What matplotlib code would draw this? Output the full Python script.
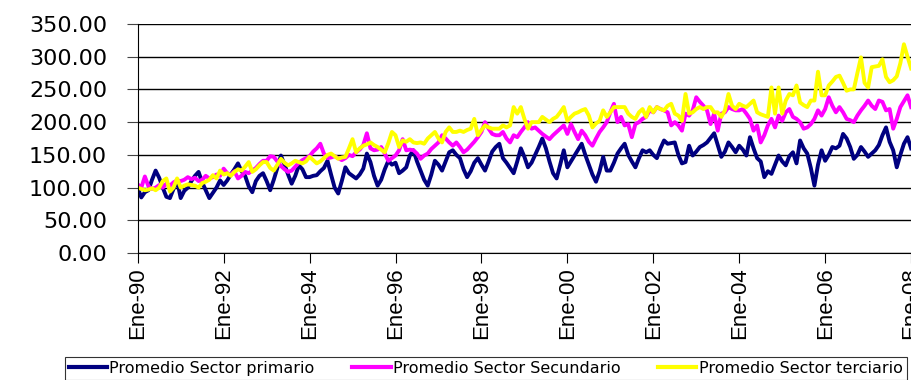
import matplotlib
matplotlib.use("Agg")
import matplotlib.pyplot as plt

plt.rcParams['font.family'] = ['Liberation Sans', 'DejaVu Sans']

# monthly averages, Ene-1990 .. Ene-2008
primario = [
    100, 85, 93, 96, 112, 126, 115, 100, 86, 84, 98, 111,
    84, 95, 100, 110, 118, 124, 108, 96, 84, 92, 100, 111,
    104, 111, 120, 128, 137, 125, 118, 102, 93, 110, 118, 122,
    110, 96, 112, 130, 149, 135, 120, 106, 118, 134, 128, 116,
    116, 118, 119, 125, 130, 141, 120, 100, 91, 110, 131, 122,
    118, 114, 120, 129, 152, 139, 118, 103, 112, 128, 141, 135,
    138, 122, 126, 131, 149, 157, 140, 126, 112, 103, 120, 141,
    135, 126, 140, 154, 157, 150, 145, 128, 116, 125, 138, 145,
    135, 126, 140, 155, 162, 167, 145, 138, 130, 122, 140, 160,
    147, 131, 138, 150, 162, 175, 160, 140, 122, 114, 135, 157,
    131, 140, 149, 158, 167, 150, 135, 120, 109, 125, 147, 126,
    126, 138, 152, 160, 167, 150, 140, 131, 145, 157, 154, 157,
    150, 145, 160, 172, 167, 168, 169, 150, 137, 139, 164, 149,
    155, 162, 165, 169, 176, 183, 165, 147, 155, 169, 162, 154,
    164, 158, 149, 177, 160, 145, 140, 116, 125, 121, 135, 149,
    140, 134, 148, 154, 137, 172, 160, 152, 130, 103, 135, 157,
    141, 150, 162, 160, 164, 182, 175, 162, 144, 150, 162, 155,
    147, 152, 157, 165, 180, 192, 170, 157, 131, 150, 167, 177,
    160,
]
secundario = [
    105, 100, 117, 102, 98, 100, 104, 100, 106, 103, 108, 111,
    110, 112, 116, 113, 115, 110, 112, 118, 114, 116, 120, 118,
    129, 122, 120, 125, 114, 118, 124, 122, 126, 130, 136, 141,
    141, 148, 147, 140, 133, 128, 124, 126, 132, 138, 142, 145,
    148, 155, 160, 167, 152, 145, 146, 148, 145, 142, 145, 150,
    148, 154, 158, 165, 183, 160, 157, 158, 162, 152, 141, 145,
    149, 157, 174, 157, 158, 157, 152, 144, 149, 152, 159, 164,
    169, 180, 175, 169, 164, 169, 162, 154, 158, 164, 170, 177,
    185, 200, 190, 182, 180, 180, 185, 175, 169, 180, 177, 185,
    192, 200, 190, 192, 187, 182, 178, 174, 180, 185, 190, 195,
    182, 197, 185, 174, 187, 180, 170, 164, 175, 185, 192, 200,
    215, 228, 200, 208, 195, 197, 177, 197, 200, 205, 208, 218,
    215, 223, 220, 218, 215, 195, 200, 195, 187, 213, 210, 218,
    238, 231, 225, 218, 197, 213, 187, 213, 215, 223, 220, 218,
    218, 220, 213, 205, 187, 195, 169, 180, 195, 205, 192, 210,
    202, 215, 220, 208, 205, 200, 190, 192, 197, 205, 218, 210,
    220, 238, 225, 215, 223, 215, 205, 203, 200, 210, 218, 225,
    233, 225, 220, 233, 231, 218, 220, 190, 205, 223, 232, 241,
    223,
]
terciario = [
    100, 98, 96, 97, 99, 96, 100, 110, 114, 94, 100, 114,
    100, 103, 105, 104, 103, 100, 107, 109, 112, 119, 114, 126,
    120, 122, 118, 124, 128, 126, 132, 139, 124, 128, 134, 139,
    139, 130, 126, 135, 144, 138, 134, 137, 141, 139, 137, 140,
    147, 142, 137, 140, 145, 150, 152, 148, 144, 146, 147, 160,
    174, 154, 160, 164, 166, 169, 165, 162, 158, 154, 168, 185,
    180, 162, 172, 170, 174, 169, 168, 169, 167, 175, 180, 185,
    175, 169, 185, 192, 185, 185, 187, 185, 188, 190, 205, 180,
    188, 195, 192, 190, 190, 190, 195, 192, 195, 223, 213, 223,
    205, 190, 200, 200, 200, 208, 204, 200, 205, 208, 215, 223,
    202, 208, 213, 215, 218, 220, 210, 192, 198, 202, 218, 208,
    215, 223, 223, 223, 223, 213, 208, 205, 215, 220, 208, 223,
    215, 223, 220, 218, 225, 228, 213, 210, 202, 243, 213, 215,
    220, 223, 220, 223, 223, 215, 215, 208, 218, 243, 225, 220,
    228, 225, 223, 228, 233, 215, 212, 210, 208, 253, 213, 253,
    213, 233, 243, 241, 256, 230, 226, 223, 233, 233, 277, 241,
    241, 256, 262, 269, 271, 260, 248, 250, 250, 275, 299, 260,
    253, 284, 285, 286, 296, 269, 261, 264, 270, 290, 319, 300,
    282,
]
etiquetas = ['Ene-90', 'Ene-92', 'Ene-94', 'Ene-96', 'Ene-98',
             'Ene-00', 'Ene-02', 'Ene-04', 'Ene-06', 'Ene-08']
nombres = ['Promedio Sector primario', 'Promedio Sector Secundario',
           'Promedio Sector terciario']

meses = list(range(len(primario)))

fig = plt.figure(figsize=(9.12, 3.8), dpi=100)
ax = fig.add_axes([0.151, 0.334, 0.848, 0.603])

ax.plot(meses, primario, color='#000080', lw=2.8, label=nombres[0])
ax.plot(meses, secundario, color='#FF00FF', lw=2.8, label=nombres[1])
ax.plot(meses, terciario, color='#FFFF00', lw=2.8, label=nombres[2])

ax.set_ylim(0, 350)
ax.set_yticks(range(0, 351, 50))
ax.set_yticklabels(['%.2f' % v for v in range(0, 351, 50)],
                   fontsize=16, family='DejaVu Sans')
ax.set_xlim(0, len(meses) - 1)
ax.set_xticks(range(0, len(meses), 24))
ax.set_xticklabels(etiquetas, rotation=90, fontsize=16)

ax.yaxis.grid(True, color='black', lw=1)
ax.set_axisbelow(True)
for s in ['top', 'right']:
    ax.spines[s].set_visible(False)
ax.spines['left'].set_color('black')
ax.spines['bottom'].set_color('black')
ax.tick_params(axis='y', length=8, pad=14, color='#444444')
ax.tick_params(axis='x', length=7, pad=3)

leg = fig.legend(loc='lower left', bbox_to_anchor=(0.071, 0.0),
                 ncol=3, prop={'family': 'DejaVu Sans', 'size': 11.5},
                 frameon=True, fancybox=False, edgecolor='black',
                 handlelength=2.4, borderpad=0.25, columnspacing=2.35,
                 handletextpad=0.15, borderaxespad=0)
leg.get_frame().set_linewidth(0.8)
for h in leg.get_lines():
    h.set_linewidth(3)

fig.savefig('out.png', dpi=100)
